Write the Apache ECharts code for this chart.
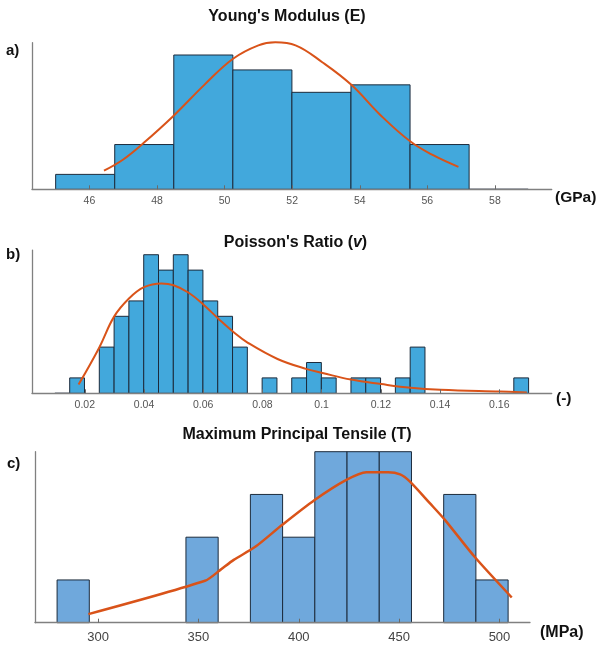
<!DOCTYPE html>
<html>
<head>
<meta charset="utf-8">
<script src="https://cdn.jsdelivr.net/npm/echarts@6/dist/echarts.min.js"></script>
<style>
html,body{margin:0;padding:0;background:#fff;}
#chart{width:596px;height:647px;}
</style>
</head>
<body>
<div id="chart"></div>
<script>
// ---------- Panel a: Young's Modulus (GPa) ----------
const aTicks = [46, 48, 50, 52, 54, 56, 58];
const aBinStart = 45.0;
const aBinWidth = 1.748;
const aCounts = [2, 6, 18, 16, 13, 14, 6, 0];
const aCurveX = [46.43, 47.0, 47.6, 48.5, 49.4, 50.25, 51.0, 51.5, 52.1, 52.9, 53.75, 54.6, 55.5, 56.2, 56.92];
const aCurveY = [2.5, 4.0, 6.2, 9.9, 14.0, 17.5, 19.3, 19.7, 19.3, 17.0, 14.0, 10.0, 6.4, 4.5, 3.0];

// ---------- Panel b: Poisson's Ratio (-) ----------
const bTicks = [0.02, 0.04, 0.06, 0.08, 0.1, 0.12, 0.14, 0.16];
const bBinStart = 0.0099;
const bBinWidth = 0.005;
const bCounts = [0, 1, 0, 3, 5, 6, 9, 8, 9, 8, 6, 5, 3, 0, 1, 0, 1, 2, 1, 0, 1, 1, 0, 1, 3, 0, 0, 0, 0, 0, 0, 1];
const bCurveX = [0.0179, 0.0249, 0.0299, 0.0350, 0.0400, 0.0459, 0.0500, 0.0551, 0.0602, 0.0652, 0.0702, 0.0751, 0.0851, 0.0950, 0.1003, 0.1099, 0.1201, 0.1301, 0.1401, 0.1603, 0.1693];
const bCurveY = [0.57, 2.98, 4.98, 6.17, 6.89, 7.13, 7.02, 6.53, 5.74, 4.83, 3.98, 3.28, 2.23, 1.57, 1.32, 0.89, 0.60, 0.36, 0.23, 0.11, 0.06];

// ---------- Panel c: Maximum Principal Tensile (MPa) ----------
const cTicks = [300, 350, 400, 450, 500];
const cBinStart = 279.6;
const cBinWidth = 16.05;
const cCounts = [1, 0, 0, 0, 2, 0, 3, 2, 4, 4, 4, 0, 3, 1];
const cCurveX = [295.2, 353.3, 360.8, 367.6, 378.5, 391.8, 407.9, 423.7, 433.7, 444.5, 450.5, 455.4, 465.4, 472.9, 487.8, 506.1];
const cCurveY = [0.2, 0.98, 1.23, 1.47, 1.78, 2.29, 2.87, 3.34, 3.52, 3.52, 3.47, 3.30, 2.79, 2.40, 1.53, 0.59];

const FONT = "'Liberation Sans', Arial, sans-serif";
const EDGE = '#1c2b3c';
const CURVE = '#d95319';
const AXIS = '#808080';

function binData(start, width, counts) {
  const out = [];
  counts.forEach((c, i) => {
    const edge = (i === 0 || i === counts.length - 1);
    if (c > 0 || edge) out.push([start + i * width, start + (i + 1) * width, c]);
  });
  return out;
}
function pairs(xs, ys) { return xs.map((x, i) => [x, ys[i]]); }

function histSeries(idx, data, fill) {
  return {
    type: 'custom', xAxisIndex: idx, yAxisIndex: idx, z: 2,
    encode: { x: [0, 1], y: 2 },
    data: data,
    renderItem: function (params, api) {
      const x0 = api.value(0), x1 = api.value(1), c = api.value(2);
      const p0 = api.coord([x0, c]);
      const p1 = api.coord([x1, 0]);
      return {
        type: 'rect',
        shape: { x: p0[0], y: p0[1], width: p1[0] - p0[0], height: p1[1] - p0[1] },
        style: { fill: c > 0 ? fill : 'none', stroke: EDGE, lineWidth: 1 }
      };
    }
  };
}
function curveSeries(idx, data, width, smooth) {
  return {
    type: 'line', xAxisIndex: idx, yAxisIndex: idx, z: 4,
    data: data, showSymbol: false, smooth: smooth, clip: false,
    lineStyle: { color: CURVE, width: width }, silent: true
  };
}
function xAx(idx, min, max, ticks, fs, margin, color) {
  return {
    gridIndex: idx, type: 'value', min: min, max: max, z: 5,
    axisLine: { show: true, lineStyle: { color: AXIS, width: 1.3 } },
    axisTick: { show: true, inside: true, length: 4, customValues: ticks, lineStyle: { color: '#6a6a6a', width: 1 } },
    axisLabel: { show: true, customValues: ticks, color: color, fontSize: fs, fontFamily: FONT, margin: margin },
    splitLine: { show: false }
  };
}
function yAx(idx, max) {
  return {
    gridIndex: idx, type: 'value', min: 0, max: max, z: 5,
    axisLine: { show: true, lineStyle: { color: AXIS, width: 1.3 } },
    axisTick: { show: false }, axisLabel: { show: false }, splitLine: { show: false }
  };
}
function txt(text, x, y, size, align, rich) {
  const st = { text: text, fontFamily: FONT, fontSize: size, fontWeight: 'bold', fill: '#111',
    textAlign: align, textVerticalAlign: 'middle' };
  if (rich) st.rich = rich;
  return { type: 'text', x: x, y: y, z: 10, style: st };
}

const chart = echarts.init(document.getElementById('chart'), null, { renderer: 'canvas' });
chart.setOption({
  animation: false,
  backgroundColor: '#fff',
  grid: [
    { left: 32, top: 42.7, width: 519.7, height: 146.6 },
    { left: 32, top: 250.1, width: 519.7, height: 143.2 },
    { left: 35, top: 451.7, width: 495, height: 171 }
  ],
  xAxis: [
    xAx(0, 44.30, 59.68, aTicks, 10.5, 6, '#555'),
    xAx(1, 0.00217, 0.1777, bTicks, 10.5, 6, '#555'),
    xAx(2, 268.6, 515.2, cTicks, 13, 8, '#444')
  ],
  yAxis: [yAx(0, 19.65), yAx(1, 9.3), yAx(2, 4)],
  series: [
    histSeries(0, binData(aBinStart, aBinWidth, aCounts), '#42a8dc'),
    curveSeries(0, pairs(aCurveX, aCurveY), 2, 0.4),
    histSeries(1, binData(bBinStart, bBinWidth, bCounts), '#42a8dc'),
    curveSeries(1, pairs(bCurveX, bCurveY), 2, 0.4),
    histSeries(2, binData(cBinStart, cBinWidth, cCounts), '#6fa8dc'),
    curveSeries(2, pairs(cCurveX, cCurveY), 2.5, 0.25)
  ],
  graphic: [
    txt("Young's Modulus (E)", 287, 17, 16, 'center'),
    txt("{n|Poisson's Ratio (}{i|v}{n|)}", 295.5, 243, 16, 'center', {
      n: { fontFamily: FONT, fontSize: 16, fontWeight: 'bold', color: '#111' },
      i: { fontFamily: FONT, fontSize: 16, fontWeight: 'bold', fontStyle: 'italic', color: '#111' }
    }),
    txt("Maximum Principal Tensile (T)", 297, 435, 16, 'center'),
    txt("a)", 6, 51, 15, 'left'),
    txt("b)", 6, 255, 15, 'left'),
    txt("c)", 7, 464, 15, 'left'),
    txt("(GPa)", 555, 198, 15.5, 'left'),
    txt("(-)", 556, 399, 15.5, 'left'),
    txt("(MPa)", 540, 633, 16, 'left')
  ]
});
</script>
</body>
</html>
